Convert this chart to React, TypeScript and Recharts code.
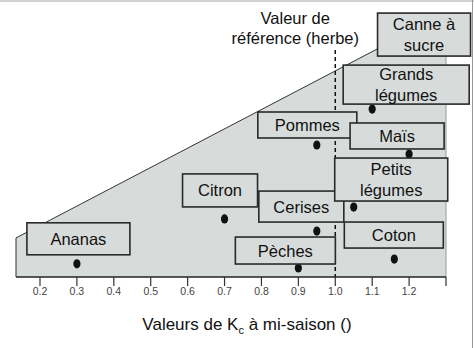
import React from 'react'
import { ComposedChart, Area, Scatter, XAxis, YAxis, ReferenceLine } from 'recharts'

// cultures and their mid-season Kc
const CROPS = ['Ananas', 'Citron', 'Cerises', 'Pèches', 'Coton', 'Pommes', 'Maïs', 'Petits légumes', 'Grands légumes', 'Canne à sucre']
const KC_MID = [0.3, 0.7, 0.95, 0.9, 1.16, 0.95, 1.2, 1.05, 1.1, 1.25]
// vertical row (arbitrary units, 0-100) used only to spread the points
const ROW_LEVEL = [5, 22, 17.4, 3.4, 6.8, 50, 46.6, 26.5, 63.6, 72.7]

// grey envelope behind the points
const ENVELOPE_KC = [0.135, 1.3]
const ENVELOPE_LEVEL = [14.8, 100]

const X_TICKS = [0.2, 0.3, 0.4, 0.5, 0.6, 0.7, 0.8, 0.9, 1.0, 1.1, 1.2, 1.3]
const REF_KC = 1.0
const REF_TOP = 86

const FONT = '"Liberation Sans", Arial, sans-serif'
const FILL = '#d7dcdb'

// label box placement relative to the point (px)
const BOXES: Record<string, { left: number; top: number; w: number; h: number }> = {
  'Ananas':         { left: -50, top: -41, w: 103, h: 32 },
  'Citron':         { left: -42, top: -45, w: 75,  h: 33 },
  'Cerises':        { left: -58, top: -40, w: 85,  h: 31 },
  'Pèches':         { left: -63, top: -31, w: 100, h: 27 },
  'Coton':          { left: -50, top: -37, w: 99,  h: 26 },
  'Pommes':         { left: -59, top: -33, w: 99,  h: 26 },
  'Maïs':           { left: -59, top: -31, w: 94,  h: 26 },
  'Petits légumes': { left: -19, top: -49, w: 113, h: 43 },
  'Grands légumes': { left: -29, top: -44, w: 126, h: 39 },
  'Canne à sucre':  { left: -50, top: -72, w: 93,  h: 43 },
}

const LINE_BREAKS: Record<string, string[]> = {
  'Petits légumes': ['Petits', 'légumes'],
  'Grands légumes': ['Grands', 'légumes'],
  'Canne à sucre': ['Canne à', 'sucre'],
}

const points = CROPS.map((name, i) => ({ name, kc: KC_MID[i], level: ROW_LEVEL[i] }))
const envelope = ENVELOPE_KC.map((kc, i) => ({ kc, level: ENVELOPE_LEVEL[i] }))

const Dot = (props: any) => {
  const { cx, cy } = props
  if (cx == null || cy == null) return null
  return <ellipse cx={cx} cy={cy} rx={3.6} ry={4.6} fill="#111" />
}

const LabelBox = (props: any) => {
  const { cx, cy, payload } = props
  if (cx == null || cy == null) return null
  const b = BOXES[payload.name]
  const lines = LINE_BREAKS[payload.name] ?? [payload.name]
  const x = cx + b.left
  const y = cy + b.top
  const mid = y + b.h / 2
  return (
    <g>
      <rect x={x} y={y} width={b.w} height={b.h} fill={FILL} stroke="#2a2a2a" strokeWidth={1.6} />
      {lines.map((t, k) => (
        <text
          key={t}
          x={x + b.w / 2}
          y={mid + (k - (lines.length - 1) / 2) * 20.5 + 6}
          textAnchor="middle"
          fontFamily={FONT}
          fontSize={16.5}
          fill="#111"
        >
          {t}
        </text>
      ))}
    </g>
  )
}

const RefLabel = (props: any) => {
  const { viewBox } = props
  if (!viewBox) return null
  const cx = viewBox.x - 40
  const top = viewBox.y
  return (
    <g fontFamily={FONT} fontSize={16.5} fill="#111" textAnchor="middle">
      <text x={cx} y={top - 26}>Valeur de</text>
      <text x={cx} y={top - 6}>référence (herbe)</text>
    </g>
  )
}

const AxisTitle = (props: any) => {
  const { viewBox } = props
  if (!viewBox) return null
  return (
    <text
      x={viewBox.x + viewBox.width / 2 + 16}
      y={viewBox.y + 53}
      textAnchor="middle"
      fontFamily={FONT}
      fontSize={17}
      fill="#111"
    >
      Valeurs de K<tspan fontSize={11} dy={4}>c</tspan>
      <tspan dy={-4}> à mi-saison ()</tspan>
    </text>
  )
}

export default function App() {
  return (
    <div style={{ position: 'absolute', left: 0, top: 0, width: 474, height: 348, background: '#fff' }}>
      <ComposedChart width={474} height={348} data={envelope} margin={{ top: 13, right: 28, left: 16, bottom: 11 }}>
        <XAxis
          dataKey="kc"
          type="number"
          domain={[0.135, 1.3]}
          ticks={X_TICKS}
          interval={0}
          tickFormatter={(v: number) => (v >= 1.25 ? '' : v.toFixed(1))}
          tickSize={9}
          height={60}
          axisLine={{ stroke: '#222', strokeWidth: 1.5 }}
          tickLine={{ stroke: '#333', strokeWidth: 1.2 }}
          tick={{ fill: '#444', fontSize: 10.5, fontFamily: FONT }}
          label={{ content: <AxisTitle /> }}
        />
        <YAxis type="number" domain={[0, 100]} hide />
        <Area
          type="linear"
          dataKey="level"
          stroke="#333"
          strokeWidth={1}
          fill={FILL}
          fillOpacity={1}
          dot={false}
          activeDot={false}
          isAnimationActive={false}
        />
        <ReferenceLine segment={[{ x: ENVELOPE_KC[0], y: 0 }, { x: ENVELOPE_KC[0], y: ENVELOPE_LEVEL[0] }]} stroke="#333" />
        <ReferenceLine segment={[{ x: ENVELOPE_KC[1], y: 0 }, { x: ENVELOPE_KC[1], y: ENVELOPE_LEVEL[1] }]} stroke="#999" />
        <ReferenceLine
          segment={[{ x: REF_KC, y: REF_TOP }, { x: REF_KC, y: 0 }]}
          stroke="#111"
          strokeWidth={1.5}
          strokeDasharray="4 3"
          label={{ content: <RefLabel /> }}
        />
        <Scatter data={points} dataKey="level" shape={<Dot />} isAnimationActive={false} />
        <Scatter data={points} dataKey="level" shape={<LabelBox />} isAnimationActive={false} />
      </ComposedChart>
      <div style={{ position: 'absolute', left: 0, top: 0, width: 474, height: 2, background: '#d2d2d2' }} />
      <div style={{ position: 'absolute', left: 472, top: 0, width: 1, height: 348, background: '#9a9a9a' }} />
    </div>
  )
}
